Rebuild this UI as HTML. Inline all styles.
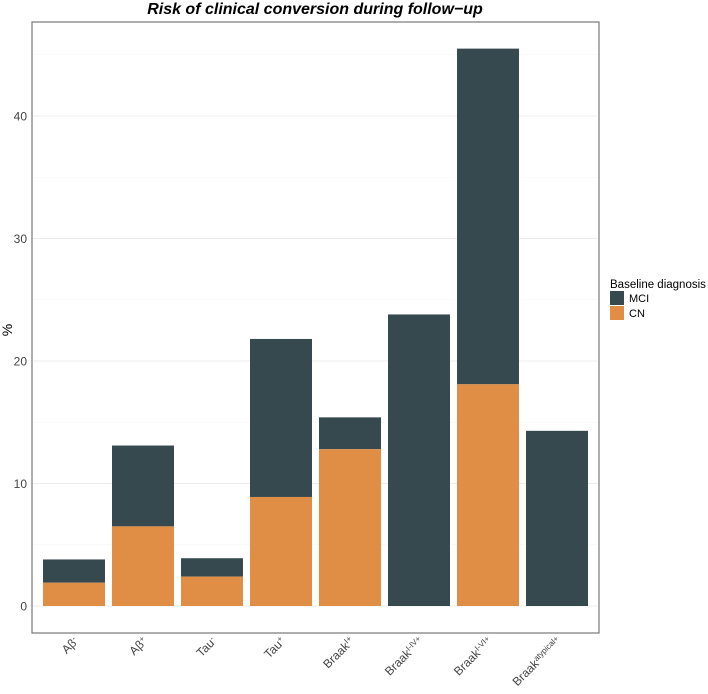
<!DOCTYPE html>
<html><head><meta charset="utf-8"><style>
body{margin:0;background:#fff;font-family:"Liberation Sans",sans-serif}
</style></head><body>
<svg width="708" height="689" xmlns="http://www.w3.org/2000/svg" font-family="Liberation Sans, sans-serif" id="chart">
<text x="315" y="14" text-anchor="middle" font-size="16" font-weight="bold" font-style="italic" fill="#000">Risk of clinical conversion during follow−up</text>
<g id="grid"></g>
<g id="bars"></g>
<rect x="32" y="22" width="567" height="611" fill="none" stroke="#777" stroke-width="1.2"/>
<g id="yticks"></g>
<g id="xticks"></g>
<text transform="translate(12,330) rotate(-90)" text-anchor="middle" font-size="14" fill="#000">%</text>
<g>
<text x="610" y="288" font-size="11.5" fill="#000">Baseline diagnosis</text>
<rect x="610" y="291" width="14" height="14" fill="#36494f"/>
<text x="629" y="302" font-size="11" fill="#000">MCI</text>
<rect x="610" y="306" width="14" height="14" fill="#e08e45"/>
<text x="629" y="317" font-size="11" fill="#000">CN</text>
</g>
</svg>
<script>
const categories=["Aβ","Aβ","Tau","Tau","Braak","Braak","Braak","Braak"];
const superscripts=["-","+","-","+","I+","I-IV+","I-VI+","atypical+"];
const totalValues=[3.8,13.1,3.9,21.8,15.4,23.8,45.5,14.3];
const cnValues=[1.9,6.5,2.4,8.9,12.8,0,18.1,0];
const yTicks=[0,10,20,30,40];
const NS="http://www.w3.org/2000/svg";
const x0=39.5,bandW=69,barW=62,yZero=606,pxPerUnit=12.25;
const y=v=>yZero-v*pxPerUnit;
const xb=i=>x0+i*bandW+(bandW-barW)/2;
function mk(tag,attrs,parent){const e=document.createElementNS(NS,tag);for(const k in attrs)e.setAttribute(k,attrs[k]);parent.appendChild(e);return e;}
const grid=document.getElementById('grid'),bars=document.getElementById('bars'),yt=document.getElementById('yticks'),xt=document.getElementById('xticks');
for(let v=0;v<=45;v+=5){const l=mk('line',{x1:33,x2:598,y1:y(v),y2:y(v),stroke:v%10===0?'#ececec':'#f6f6f6','stroke-width':v%10===0?1:0.6},grid);

}
yTicks.forEach(v=>{const t=mk('text',{x:27,y:y(v)+4.5,'text-anchor':'end','font-size':12,fill:'#444'},yt);t.textContent=v;

});
categories.forEach((c,i)=>{
const mci=mk('rect',{x:xb(i),y:y(totalValues[i]),width:barW,height:(totalValues[i]-cnValues[i])*pxPerUnit,fill:'#36494f'},bars);


const cn=mk('rect',{x:xb(i),y:y(cnValues[i]),width:barW,height:cnValues[i]*pxPerUnit,fill:'#e08e45'},bars);


const cx=xb(i)+barW/2+5;
const t=mk('text',{transform:`translate(${cx},642) rotate(-45)`,'text-anchor':'end','font-size':12,fill:'#444'},xt);


t.appendChild(document.createTextNode(c));
const s=mk('tspan',{'font-size':8,dy:-4},t);s.textContent=superscripts[i];
});
</script>
</body></html>
